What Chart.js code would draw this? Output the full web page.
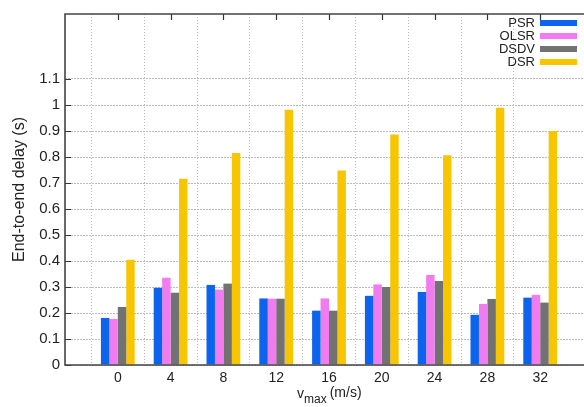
<!DOCTYPE html>
<html>
<head>
<meta charset="utf-8">
<script src="https://cdn.jsdelivr.net/npm/chart.js@4.4.1/dist/chart.umd.min.js"></script>
<style>
  html, body { margin: 0; padding: 0; background: #fff; overflow: hidden; width: 584px; height: 407px; }
  #wrap { width: 600px; height: 407px; }
</style>
</head>
<body>
<div id="wrap"><canvas id="c" width="600" height="407"></canvas></div>
<script>
const categories = ['0', '4', '8', '12', '16', '20', '24', '28', '32'];
const psr  = [0.181, 0.297, 0.308, 0.256, 0.209, 0.266, 0.281, 0.193, 0.259];
const olsr = [0.177, 0.336, 0.290, 0.255, 0.256, 0.310, 0.346, 0.235, 0.270];
const dsdv = [0.223, 0.278, 0.313, 0.255, 0.209, 0.300, 0.323, 0.254, 0.240];
const dsr  = [0.405, 0.716, 0.815, 0.982, 0.748, 0.887, 0.807, 0.989, 0.900];
const yTickMax = 1.1;
const yMax = 1.35;

const FONT = '"Liberation Sans", Arial, Helvetica, sans-serif';
const labels = [''].concat(categories, ['']);
const pad = arr => [null].concat(arr, [null]);
const GRID = '#bcbcbc';

const frame = {
  id: 'frame',
  afterDraw(chart) {
    const { ctx, chartArea: a, scales } = chart;
    ctx.save();
    // inward ticks
    ctx.strokeStyle = '#333';
    ctx.lineWidth = 1.2;
    ctx.beginPath();
    scales.y.ticks.forEach(t => {
      const y = Math.round(scales.y.getPixelForValue(t.value)) + 0.5;
      ctx.moveTo(a.left, y); ctx.lineTo(a.left + 6, y);
    });
    categories.forEach((c, i) => {
      const x = Math.round(scales.x.getPixelForValue(i + 1)) + 0.5;
      ctx.moveTo(x, a.top); ctx.lineTo(x, a.top + 6);
    });
    ctx.stroke();
    // frame (right side is cropped off in the reference)
    ctx.strokeStyle = '#444';
    ctx.lineWidth = 1.6;
    ctx.beginPath();
    ctx.moveTo(a.right, a.top); ctx.lineTo(a.left, a.top);
    ctx.lineTo(a.left, a.bottom); ctx.lineTo(a.right, a.bottom);
    ctx.stroke();
    // legend (text then swatch)
    ctx.font = '13px ' + FONT;
    ctx.textAlign = 'right';
    ctx.textBaseline = 'middle';
    chart.data.datasets.forEach((ds, i) => {
      const y = 23 + i * 13;
      ctx.fillStyle = '#222';
      ctx.fillText(ds.label, 535, y + 0.5);
      ctx.fillStyle = ds.backgroundColor;
      ctx.fillRect(540, y - 3, 37, 6);
    });
    // x axis title with subscript
    ctx.fillStyle = '#222';
    ctx.textAlign = 'left';
    ctx.textBaseline = 'alphabetic';
    let x = 297;
    ctx.font = '14px ' + FONT;
    ctx.fillText('v', x, 398);
    x += ctx.measureText('v').width;
    ctx.font = '12px ' + FONT;
    ctx.fillText('max', x, 403);
    x += ctx.measureText('max').width + 3;
    ctx.font = '14px ' + FONT;
    ctx.fillText('(m/s)', x, 397);
    ctx.restore();
  }
};

new Chart(document.getElementById('c'), {
  type: 'bar',
  data: {
    labels: labels,
    datasets: [
      { label: 'PSR',  data: pad(psr),  backgroundColor: '#0b63ee' },
      { label: 'OLSR', data: pad(olsr), backgroundColor: '#f07cf0' },
      { label: 'DSDV', data: pad(dsdv), backgroundColor: '#727272' },
      { label: 'DSR',  data: pad(dsr),  backgroundColor: '#f7c600' }
    ]
  },
  options: {
    responsive: false,
    animation: false,
    devicePixelRatio: 1,
    layout: { padding: { left: 0, top: 9, right: 7, bottom: 0 } },
    datasets: { bar: { categoryPercentage: 0.64, barPercentage: 1.0, borderWidth: 0 } },
    plugins: { legend: { display: false }, tooltip: { enabled: false } },
    scales: {
      x: {
        offset: false,
        afterFit(s) { s.height = 42; },
        grid: {
          color: c => (c.index === 0 || c.index === labels.length - 1) ? 'rgba(0,0,0,0)' : GRID,
          drawTicks: false, lineWidth: 1
        },
        border: { display: false, dash: [1, 2] },
        ticks: { padding: 5, color: '#222', font: { family: FONT, size: 14 }, maxRotation: 0, autoSkip: false }
      },
      y: {
        min: 0,
        max: yMax,
        afterFit(s) { s.width = 65; },
        afterBuildTicks(s) { s.ticks = s.ticks.filter(t => t.value <= yTickMax + 1e-9); },
        grid: { color: GRID, drawTicks: false, lineWidth: 1 },
        border: { display: false, dash: [2, 1] },
        ticks: {
          stepSize: 0.1, padding: 5, color: '#222',
          font: { family: FONT, size: 15 },
          callback: v => String(+Number(v).toFixed(2))
        },
        title: {
          display: true, text: 'End-to-end delay (s)', color: '#222',
          font: { family: FONT, size: 16 }, padding: { top: 10, bottom: 0 }
        }
      }
    }
  },
  plugins: [frame]
});
</script>
</body>
</html>
